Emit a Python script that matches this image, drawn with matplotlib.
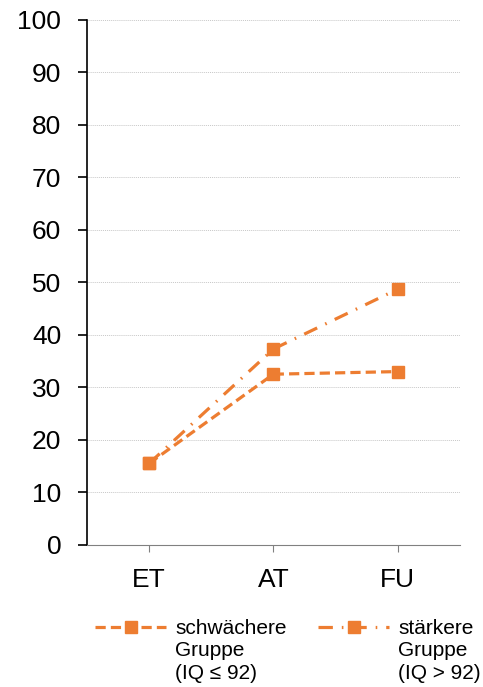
import matplotlib.pyplot as plt

categories = ['ET', 'AT', 'FU']
weaker = [15.5, 32.5, 33.0]
stronger = [15.5, 37.3, 48.7]
labels = ['schwächere', 'stärkere']
sublabels = ['Gruppe\n(IQ ≤ 92)', 'Gruppe\n(IQ > 92)']

plt.rcParams['font.family'] = ['Liberation Sans', 'DejaVu Sans']
orange = '#ED7D31'

fig = plt.figure(figsize=(4.83, 6.87), dpi=100)
ax = fig.add_axes([0.180, 0.207, 0.772, 0.764])

xpos = [i + 0.5 for i in range(len(categories))]
ax.plot(xpos, weaker, color=orange, lw=2.3, dashes=(3.2, 1.6),
        marker='s', markersize=9, label=labels[0])
ax.plot(xpos, stronger, color=orange, lw=2.3, dashes=(4.5, 2.8, 0.5, 2.8),
        marker='s', markersize=9, label=labels[1])

ax.set_xlim(0, 3)
ax.set_ylim(0, 100)
ax.set_yticks(range(0, 101, 10))
ax.set_xticks(xpos)
ax.set_xticklabels(categories)
ax.tick_params(axis='y', labelsize=19, length=6.5, width=1.2,
               direction='out', pad=12)
ax.tick_params(axis='x', labelsize=19, length=5, color='#808080', pad=12)
ax.yaxis.grid(True, color='#C8C8C8', linestyle=(0, (1, 1)), lw=0.7)
ax.set_axisbelow(True)
for s in ['top', 'right']:
    ax.spines[s].set_visible(False)
ax.spines['left'].set_linewidth(1.2)
ax.spines['bottom'].set_color('#808080')

# Legend with first line only, the rest written under each entry
leg = fig.legend(loc='upper left', bbox_to_anchor=(0.197, 0.099), ncol=2,
                 frameon=False, fontsize=15, handlelength=3.4,
                 columnspacing=1.5, handletextpad=0.45, borderpad=0,
                 borderaxespad=0)
fig.canvas.draw()
inv = fig.transFigure.inverted()
for t, sub in zip(leg.get_texts(), sublabels):
    bb = t.get_window_extent().transformed(inv)
    fig.text(bb.x0, bb.y0 - 0.005, sub, va='top', ha='left', fontsize=15,
             linespacing=1.27)

plt.savefig('out.png', dpi=100)
